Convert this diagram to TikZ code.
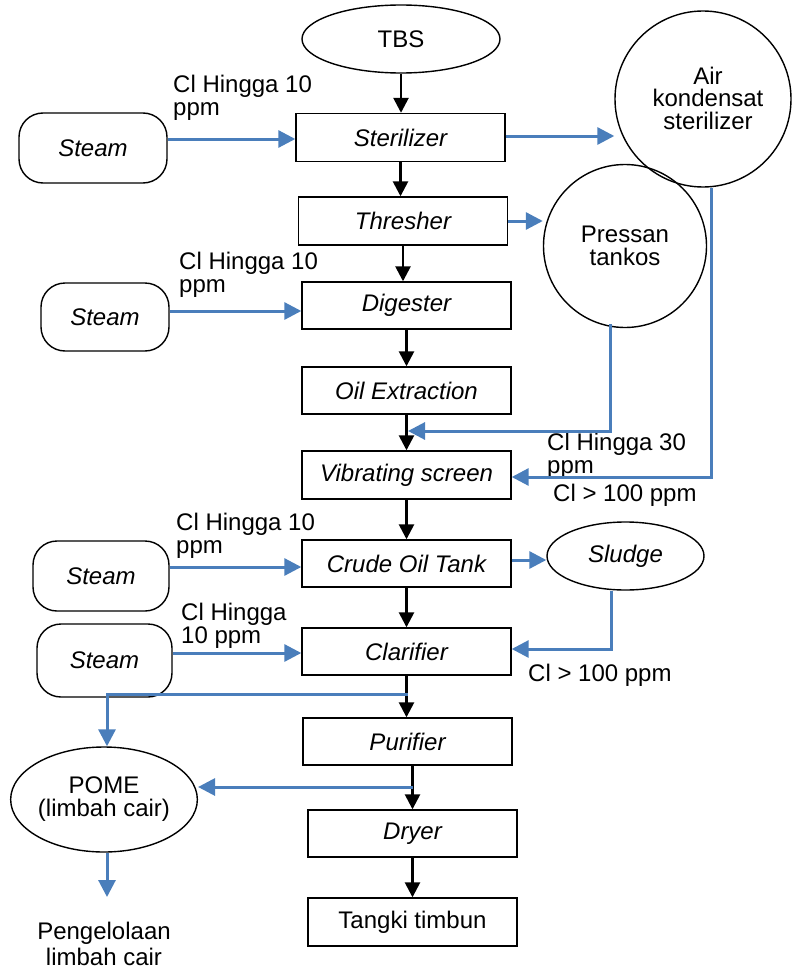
\documentclass[tikz,border=0pt]{standalone}
\usepackage{fontspec}
\setmainfont{Liberation Sans}
\usetikzlibrary{arrows.meta,shapes.geometric,calc}
\definecolor{flowblue}{RGB}{74,126,187}
\begin{document}
\begin{tikzpicture}[x=1pt,y=-1pt,
  font=\fontsize{24}{22.5}\selectfont,
  box/.style={draw, line width=1.4pt, minimum width=209pt, minimum height=48pt, inner sep=0pt, font=\fontsize{24}{22.5}\selectfont\itshape},
  stm/.style={draw, line width=1.4pt, rounded corners=24pt, inner sep=0pt, font=\fontsize{24}{22.5}\selectfont\itshape},
  ell/.style={draw, ellipse, line width=1.4pt, inner sep=0pt, align=center},
  circ/.style={draw, circle, line width=1.4pt, inner sep=0pt, align=center},
  lbl/.style={anchor=north west, inner sep=0pt, align=left},
  blk/.style={line width=2.6pt, -{Triangle[width=15pt,length=15pt]}},
  blu/.style={draw=flowblue, line width=3pt, -{Triangle[width=17pt,length=17pt]}}
]
\useasboundingbox (0,0) rectangle (792,971);

% main column
\node[ell, minimum width=198pt, minimum height=68pt] (tbs) at (401,39) {TBS};
\node[box] (ster) at (400.5,137.5) {Sterilizer};
\node[box] (thr) at (403,221) {Thresher};
\node[box, minimum height=47pt] (dig) at (406.5,305.5) {Digester};
\node[box, minimum height=47pt] (oil) at (406.5,390.5) {Oil Extraction};
\node[box] (vib) at (406.5,475) {Vibrating screen};
\node[box, minimum height=47pt] (cot) at (406.5,563.5) {Crude Oil Tank};
\node[box, minimum height=47pt] (cla) at (406.5,651.5) {Clarifier};
\node[box, minimum height=47pt] (pur) at (407.5,741.5) {Purifier};
\node[box, minimum height=47pt] (dry) at (412.5,833.5) {Dryer};
\node[box, font=\fontsize{24}{22.5}\selectfont] (tan) at (412.5,922) {Tangki timbun};

% steam inputs
\node[stm, minimum width=148pt, minimum height=70pt] (s1) at (93,148) {Steam};
\node[stm, minimum width=128pt, minimum height=68pt] (s2) at (105,317) {Steam};
\node[stm, minimum width=136pt, minimum height=70pt] (s3) at (101,576) {Steam};
\node[stm, minimum width=135pt, minimum height=73pt] (s4) at (104.5,660.5) {Steam};

% right side
\node[circ, minimum size=176pt] (air) at (703,99) {};
\node[align=center, inner sep=0pt] (airtxt) at (708,98) {Air\\kondensat\\sterilizer};
\node[circ, minimum size=163pt] (prs) at (625,246) {Pressan\\tankos};
\node[ell, minimum width=157pt, minimum height=68pt, font=\fontsize{24}{22.5}\selectfont\itshape] (slu) at (625.5,556) {Sludge};

% left bottom
\node[ell, minimum width=186pt, minimum height=105pt, font=\fontsize{24}{23}\selectfont] (pome) at (104,799.5) {POME\\(limbah cair)};
\coordinate (pend) at (107,897);
\node[anchor=north, inner sep=0pt, align=center, font=\fontsize{24}{26}\selectfont] (peng) at (104,922) {Pengelolaan\\limbah cair};

% labels
\node[lbl] (l1) at (173,75) {Cl Hingga 10\\ppm};
\node[lbl] (l2) at (179,252) {Cl Hingga 10\\ppm};
\node[lbl] (l3) at (176,513) {Cl Hingga 10\\ppm};
\node[lbl] (l4) at (181,603) {Cl Hingga\\10 ppm};
\node[lbl] (l5) at (547,433) {Cl Hingga 30\\ppm};
\node[lbl] (l6) at (553,484) {Cl > 100 ppm};
\node[lbl] (l7) at (528,664) {Cl > 100 ppm};

% black main flow
\draw[blk] (tbs.south) -- (tbs.south |- ster.north);
\draw[blk] (ster.south) -- (ster.south |- thr.north);
\draw[blk] (thr.south) -- (thr.south |- dig.north);
\draw[blk] (dig.south) -- (dig.south |- oil.north);
\draw[blk] (oil.south) -- (oil.south |- vib.north);
\draw[blk] (vib.south) -- (vib.south |- cot.north);
\draw[blk] (cot.south) -- (cot.south |- cla.north);
\draw[blk] (cla.south) -- (cla.south |- pur.north);
\draw[blk] (dry.north |- pur.south) -- (dry.north);
\draw[blk] (dry.south) -- (dry.south |- tan.north);

% blue: steam
\draw[blu] (s1.east |- 0,139) -- (ster.west |- 0,139);
\draw[blu] (s2.east |- 0,311) -- (dig.west |- 0,311);
\draw[blu] (s3.east |- 0,567) -- (cot.west |- 0,567);
\draw[blu] (s4.east |- 0,653) -- (cla.west |- 0,653);

% blue: right side
\draw[blu] (ster.east |- 0,136) -- (air.west |- 0,136);
\draw[blu] (thr.east |- 0,221) -- (prs.west |- 0,221);
\coordinate (pj) at (408,431);
\draw[blu] ([xshift=-15pt,yshift=4pt]prs.south) |- (pj);
\draw[blu] ([xshift=8pt]air.south) |- (vib.east |- 0,477);
\draw[blu] (cot.east |- 0,560) -- (slu.west |- 0,560);
\draw[blu] ([xshift=-14pt]slu.south) |- (cla.east |- 0,649);

% blue: POME
\coordinate (cj) at (408,694);
\draw[blu] (cj) -| ([xshift=3pt]pome.north);
\coordinate (pj2) at (413,787);
\draw[blu] (pj2) -- (pj2 -| pome.east);
\draw[blu] ([xshift=3pt]pome.south) -- (pend);
\end{tikzpicture}
\end{document}
